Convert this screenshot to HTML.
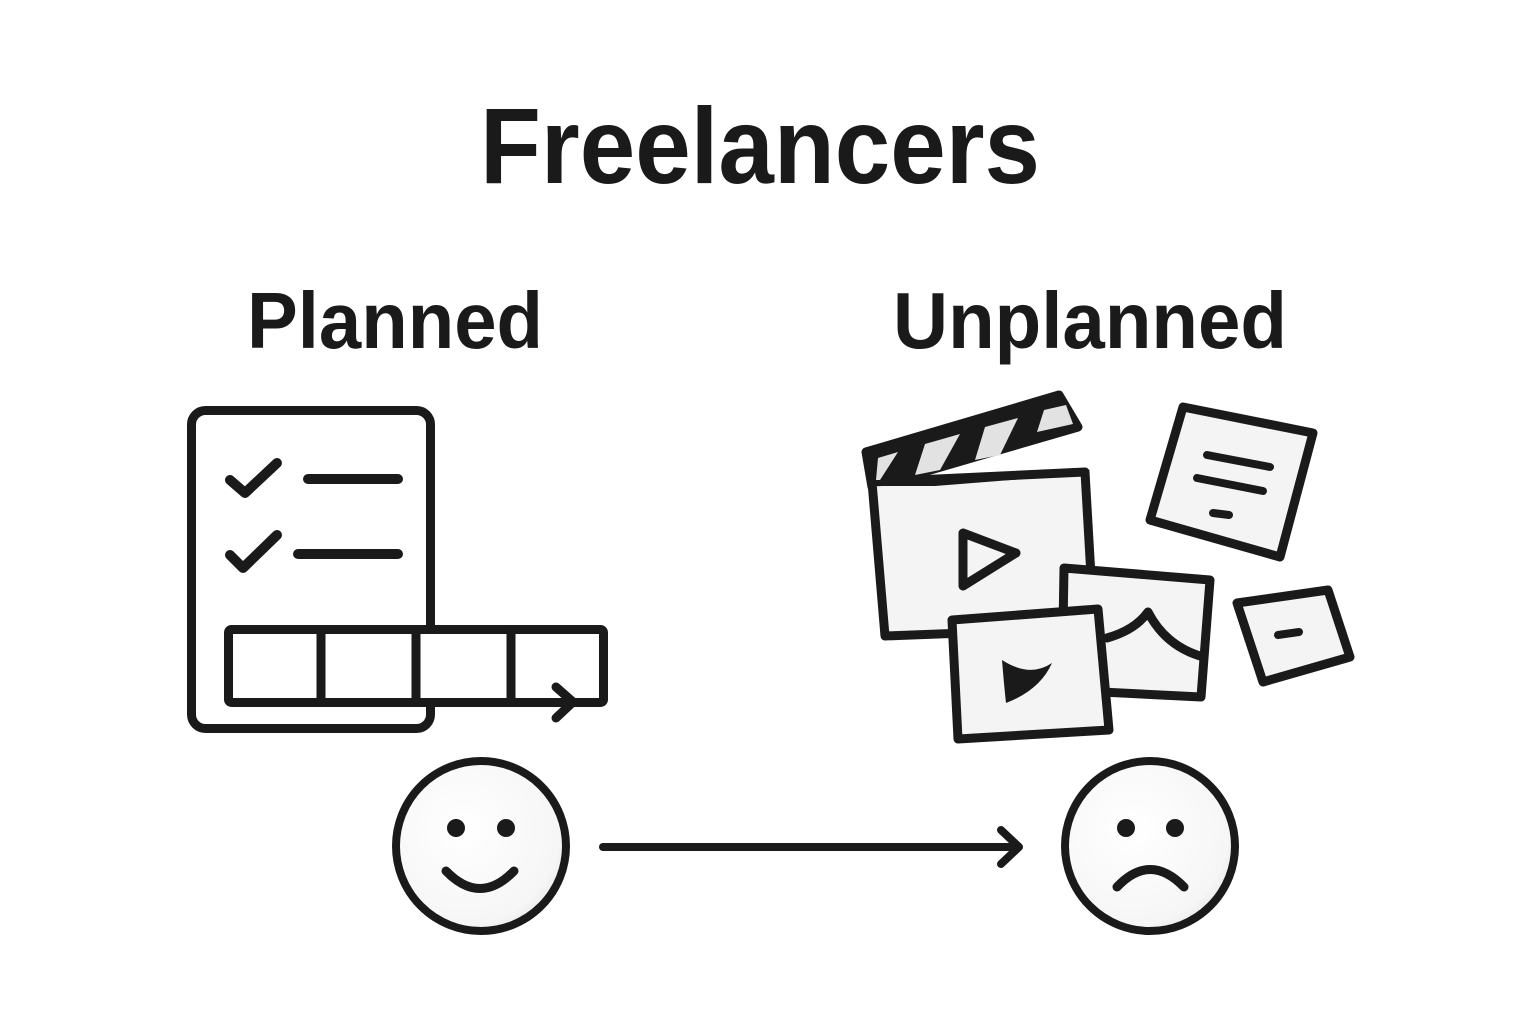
<!DOCTYPE html>
<html><head><meta charset="utf-8"><style>
html,body{margin:0;padding:0;background:#fff;}
svg{display:block;}
text{font-family:"Liberation Sans",Arial,sans-serif;font-weight:bold;fill:#1a1a1a;}
</style></head><body>
<svg width="1536" height="1024" viewBox="0 0 1536 1024" xmlns="http://www.w3.org/2000/svg">
<defs>
<radialGradient id="fg" cx="0.4" cy="0.4" r="0.7"><stop offset="0" stop-color="#fff"/><stop offset="0.8" stop-color="#f6f6f6"/><stop offset="1" stop-color="#e4e4e4"/></radialGradient>
</defs>
<text x="760" y="183" font-size="108" text-anchor="middle" textLength="560" lengthAdjust="spacingAndGlyphs">Freelancers</text>
<text x="395" y="348" font-size="80" text-anchor="middle" textLength="296" lengthAdjust="spacingAndGlyphs">Planned</text>
<text x="1090" y="348" font-size="80" text-anchor="middle" textLength="394" lengthAdjust="spacingAndGlyphs">Unplanned</text>

<g fill="none" stroke="#1a1a1a" stroke-linecap="round" stroke-linejoin="round">
<!-- checklist -->
<rect x="191.5" y="410.5" width="239" height="318" rx="14" stroke-width="9"/>
<polyline points="230,480 245,493 277,463" stroke-width="10"/>
<polyline points="230,555 243,568 277,535" stroke-width="10"/>
<line x1="308" y1="479" x2="398" y2="479" stroke-width="10"/>
<line x1="298" y1="554" x2="398" y2="554" stroke-width="10"/>
<rect x="228.5" y="629.5" width="375" height="73" rx="3" fill="#fff" stroke-width="9"/>
<line x1="321" y1="630" x2="321" y2="702" stroke-width="9"/>
<line x1="416" y1="630" x2="416" y2="702" stroke-width="9"/>
<line x1="511" y1="630" x2="511" y2="702" stroke-width="9"/>
<polyline points="556,687 573,702 556,718" stroke-width="9"/>

<!-- faces -->
<circle cx="481" cy="846" r="85" fill="url(#fg)" stroke-width="8"/>
<circle cx="1150" cy="846" r="85" fill="url(#fg)" stroke-width="8"/>
<path d="M446 871 Q480 906 514 871" stroke-width="9"/>
<path d="M1117 887 Q1150 852 1184 887" stroke-width="9"/>
<line x1="603" y1="847" x2="1018" y2="847" stroke-width="8"/>
<polyline points="1001,830 1019,847 1001,864" stroke-width="8"/>

<!-- unplanned -->
<g stroke-width="9" fill="#f4f4f4">
<polygon points="1183,407 1313,433 1280,557 1150,520"/>
<polygon points="1237,603 1328,590 1350,657 1263,682"/>
<polygon points="866,452 1059,395 1078,427 872,487" fill="#1a1a1a"/>
<polygon points="872,482 1085,472 1094,628 885,636"/>
<polygon points="963,533 1016,553 963,586"/>
<polygon points="1064,568 1210,580 1201,697 1062,690"/>
<path d="M1107 638 Q1135 630 1148 612 Q1165 645 1200 656" fill="none"/>
<polygon points="952,620 1098,609 1109,730 958,739"/>
</g>
</g>
<!-- clapper stripes -->
<g fill="#e2e2e2">
<polygon points="878,458 898,452 880,480 876,480"/>
<polygon points="925,444 960,434 940,470 915,475"/>
<polygon points="985,427 1018,418 1000,455 975,460"/>
<polygon points="1044,410 1066,405 1073,424 1037,432"/>
</g>
<polygon points="872,486 935,486 1086,474 1090,470" fill="#1a1a1a"/>
<g fill="#1a1a1a">
<path d="M1002 660 Q1004 685 1006 703 Q1040 690 1052 663 Q1030 678 1002 660Z"/>
</g>
<g stroke="#1a1a1a" stroke-width="8" stroke-linecap="round">
<line x1="1207" y1="455" x2="1270" y2="467"/>
<line x1="1197" y1="478" x2="1263" y2="491"/>
<line x1="1213" y1="513" x2="1229" y2="515"/>
<line x1="1278" y1="635" x2="1299" y2="632"/>
</g>
<g fill="#1a1a1a">
<circle cx="456" cy="828" r="9"/><circle cx="506" cy="828" r="9"/>
<circle cx="1126" cy="828" r="9"/><circle cx="1175" cy="828" r="9"/>
</g>
</svg>
</body></html>
